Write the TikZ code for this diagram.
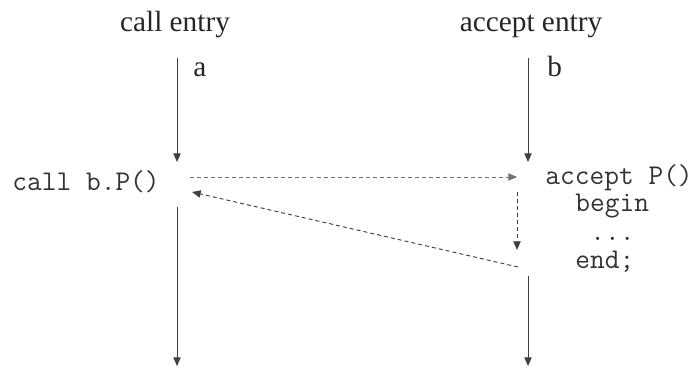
\documentclass[tikz,border=0pt]{standalone}
\usepackage{fontspec}
\setmainfont{Liberation Serif}
\usetikzlibrary{arrows.meta}
\begin{document}
\begin{tikzpicture}[x=0.015cm, y=-0.015cm,
  lbl/.style={font=\fontsize{12.5}{14}\selectfont, text=black!85, inner sep=0pt},
  code/.style={font=\fontsize{12.2}{14}\selectfont\ttfamily, text=black!80, inner sep=0pt, anchor=base west},
  arr/.style={-{Triangle[length=1.3mm, width=1.1mm]}, black!75},
  darr/.style={arr, dash pattern=on 1.7pt off 1.3pt}]
  \useasboundingbox (0,0) rectangle (698,367);
  % headings
  \node[lbl, anchor=base] (ce) at (175,32) {call entry};
  \node[lbl, anchor=base] (ae) at (531,32) {accept entry};
  \node[lbl, anchor=base west] (la) at (193,77) {a};
  \node[lbl, anchor=base west] (lb) at (547,77) {b};
  % code
  \node[code] (call) at (12,190) {call b.P()};
  \node[code] (acc) at (545,184) {accept P()};
  \node[code] (beg) at (575,211) {begin};
  \node[code] (dots) at (590,240) {...};
  \node[code] (fin) at (575,268) {end;};
  % time lines
  \coordinate (a0) at (177,58);  \coordinate (a1) at (177,162);
  \coordinate (a2) at (177,207); \coordinate (a3) at (177,366);
  \coordinate (b0) at (528,58);  \coordinate (b1) at (528,162);
  \coordinate (b2) at (528,276); \coordinate (b3) at (528,366);
  \draw[arr] (a0) -- (a1);
  \draw[arr] (a2) -- (a3);
  \draw[arr] (b0) -- (b1);
  \draw[arr] (b2) -- (b3);
  % rendezvous
  \coordinate (c1) at (190,177); \coordinate (r1) at (517,177);
  \coordinate (r2) at (517,192); \coordinate (r3) at (517,250);
  \coordinate (r4) at (518,267); \coordinate (c2) at (192,192);
  \draw[darr, black!55] (c1) -- (r1);
  \draw[darr] (r2) -- (r3);
  \draw[darr] (r4) -- (c2);
\end{tikzpicture}
\end{document}
